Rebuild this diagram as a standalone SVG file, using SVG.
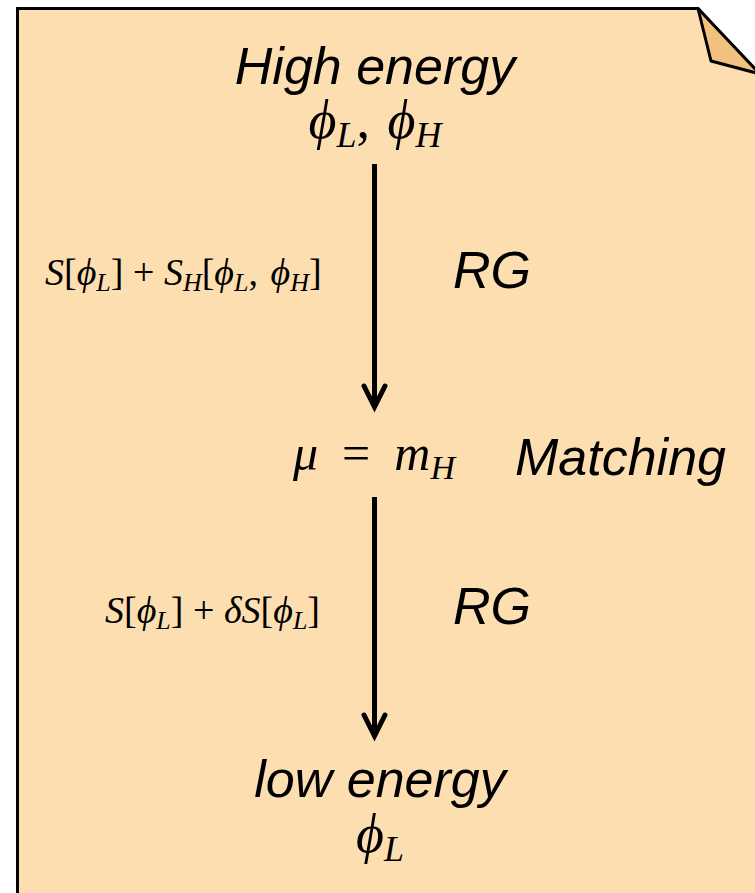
<svg xmlns="http://www.w3.org/2000/svg" width="755" height="893" viewBox="0 0 755 893">
<style>
.t{font-family:"Liberation Sans",Arial,sans-serif;font-style:italic;font-size:52px;fill:#000}
.m{font-family:"Liberation Serif","Times New Roman",serif;fill:#000}
.i{font-style:italic}
.shaft{stroke:#000;stroke-width:5;fill:none}
.head{stroke:#000;stroke-width:5;fill:none;stroke-linecap:round;stroke-linejoin:miter}
</style>
<g id="page">
<path d="M17.5,900 L17.5,8.5 L698,8.5 L760,76 L760,900 Z" fill="#FDDEB0" stroke="none"/>
<path d="M17.5,900 L17.5,8.5 L698,8.5 L760,76" fill="none" stroke="#000" stroke-width="3"/>
<path d="M698,8.5 L711,61 L760,74 Z" fill="#F2C07F" stroke="#000" stroke-width="3" stroke-linejoin="round"/>
</g>
<g id="connectors">
<line class="shaft" x1="374.5" y1="164" x2="374.5" y2="404"/>
<polyline class="head" points="364,386 374.5,407 385,386"/>
<line class="shaft" x1="374.5" y1="497" x2="374.5" y2="733"/>
<polyline class="head" points="364,715 374.5,736 385,715"/>
</g>
<g id="high">
<text class="t" x="375" y="84" text-anchor="middle">High energy</text>
<text class="m" x="375" y="138" text-anchor="middle" font-size="54"><tspan class="i">ϕ</tspan><tspan class="i" font-size="36" dy="9">L</tspan><tspan dy="-9">, </tspan><tspan class="i" dx="4">ϕ</tspan><tspan class="i" font-size="36" dy="9">H</tspan></text>
</g>
<g id="rg1">
<text class="m" x="45" y="285" font-size="38"><tspan class="i">S</tspan>[<tspan class="i">ϕ</tspan><tspan class="i" font-size="26" dy="6">L</tspan><tspan dy="-6">] + </tspan><tspan class="i">S</tspan><tspan class="i" font-size="26" dy="6">H</tspan><tspan dy="-6">[</tspan><tspan class="i">ϕ</tspan><tspan class="i" font-size="26" dy="6">L</tspan><tspan dy="-6">, </tspan><tspan class="i" dx="3">ϕ</tspan><tspan class="i" font-size="26" dy="6">H</tspan><tspan dy="-6">]</tspan></text>
<text class="t" x="453" y="288">RG</text>
</g>
<g id="matching">
<text class="m" x="293" y="470" font-size="50"><tspan class="i">μ</tspan><tspan dx="24">=</tspan><tspan class="i" dx="24">m</tspan><tspan class="i" font-size="34" dy="9">H</tspan></text>
<text class="t" x="515" y="475">Matching</text>
</g>
<g id="rg2">
<text class="m" x="105" y="623" font-size="38"><tspan class="i">S</tspan>[<tspan class="i">ϕ</tspan><tspan class="i" font-size="26" dy="6">L</tspan><tspan dy="-6">] + </tspan><tspan class="i">δS</tspan>[<tspan class="i">ϕ</tspan><tspan class="i" font-size="26" dy="6">L</tspan><tspan dy="-6">]</tspan></text>
<text class="t" x="453" y="624">RG</text>
</g>
<g id="low">
<text class="t" x="380" y="797" text-anchor="middle">low energy</text>
<text class="m" x="380" y="852" text-anchor="middle" font-size="54"><tspan class="i">ϕ</tspan><tspan class="i" font-size="36" dy="9">L</tspan></text>
</g>
</svg>
